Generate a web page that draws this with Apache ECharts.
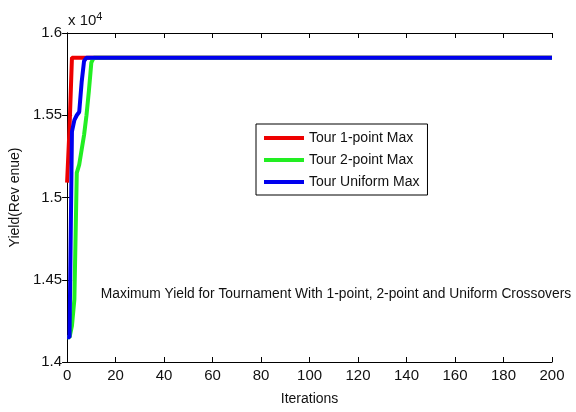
<!DOCTYPE html>
<html>
<head>
<meta charset="utf-8">
<script src="https://cdn.jsdelivr.net/npm/echarts@6/dist/echarts.min.js"></script>
<style>
  html,body{margin:0;padding:0;background:#fff;}
  #main{width:576px;height:412px;}
</style>
</head>
<body>
<div id="main"></div>
<script>
// iterations / yield values
var iterRed   = [0, 1, 2, 200];
var yieldRed  = [15090, 15420, 15850, 15850];

var iterGreen  = [0, 1, 2, 3, 4, 5, 6, 7, 8, 9, 10, 11, 200];
var yieldGreen = [14150, 14150, 14220, 14380, 15150, 15200, 15290, 15380, 15500, 15650, 15820, 15850, 15850];

var iterBlue  = [0, 1, 2, 3, 4, 5, 6, 7, 8, 200];
var yieldBlue = [14150, 14150, 15400, 15470, 15500, 15520, 15700, 15830, 15850, 15850];

var seriesNames = ['Tour 1-point Max', 'Tour 2-point Max', 'Tour Uniform Max'];
var seriesColors = ['#ee0000', '#22ee22', '#0000ee'];
var yTicks = [14000, 14500, 15000, 15500, 16000];

var font = "'Liberation Sans Narrow', 'Liberation Sans', Arial, sans-serif";

var pairs = function(xs, ys){
    var out = [];
    for (var i = 0; i < xs.length; i++) out.push([xs[i], ys[i]]);
    return out;
};

var myChart = echarts.init(document.getElementById('main'));

var tickStyle = {show:true, inside:true, length:5, lineStyle:{color:'#000', width:1}};
var lineStyle = {show:true, lineStyle:{color:'#000', width:1}};

var option = {
    animation:false,
    backgroundColor:'#fff',
    textStyle:{fontFamily:font},
    title:[{
        text:'Maximum Yield for Tournament With 1-point, 2-point and Uniform Crossovers',
        left:331, top:282, textAlign:'center',
        textStyle:{fontSize:13.8, fontWeight:'normal', color:'#111', fontFamily:font}
    },{
        text:'x 10{sup|4}',
        left:63, top:6,
        textStyle:{fontSize:15, fontWeight:'normal', color:'#111', fontFamily:font,
            rich:{sup:{fontSize:11, verticalAlign:'top', padding:[0,0,8,0], fontFamily:font, color:'#111'}}}
    }],
    legend:{
        orient:'vertical',
        left:256, top:124,
        data:seriesNames,
        icon:'rect',
        itemWidth:40, itemHeight:4,
        itemGap:8,
        borderColor:'#000', borderWidth:1,
        padding:[7,8,6,8],
        backgroundColor:'#fff',
        textStyle:{fontSize:14, color:'#111', fontFamily:font}
    },
    grid:{left:65, top:33, right:24, bottom:50},
    xAxis:[{
        type:'value', min:0, max:200, interval:20,
        name:'Iterations', nameLocation:'middle', nameGap:30,
        nameTextStyle:{fontSize:14, color:'#111', fontFamily:font},
        axisLine:lineStyle, axisTick:tickStyle, splitLine:{show:false},
        axisLabel:{fontSize:15, color:'#111', margin:6, fontFamily:font}
    },{
        type:'value', min:0, max:200, interval:20, position:'top',
        axisLine:lineStyle, axisTick:tickStyle, splitLine:{show:false},
        axisLabel:{show:false}
    }],
    yAxis:[{
        type:'value', min:yTicks[0], max:yTicks[yTicks.length-1], interval:500,
        name:'Yield(Rev enue)', nameLocation:'middle', nameGap:35,
        nameTextStyle:{fontSize:14, color:'#111', fontFamily:font},
        axisLine:lineStyle, axisTick:tickStyle, splitLine:{show:false},
        axisLabel:{fontSize:15, color:'#111', margin:5, fontFamily:font,
            formatter:function(v){ return String(v/10000); }}
    },{
        type:'value', min:yTicks[0], max:yTicks[yTicks.length-1], interval:500, position:'right',
        axisLine:lineStyle, axisTick:tickStyle, splitLine:{show:false},
        axisLabel:{show:false}
    }],
    series:[
        {name:seriesNames[0], type:'line', data:pairs(iterRed, yieldRed), showSymbol:false,
         lineStyle:{width:4, color:seriesColors[0]}, itemStyle:{color:seriesColors[0]}},
        {name:seriesNames[1], type:'line', data:pairs(iterGreen, yieldGreen), showSymbol:false,
         lineStyle:{width:4, color:seriesColors[1]}, itemStyle:{color:seriesColors[1]}},
        {name:seriesNames[2], type:'line', data:pairs(iterBlue, yieldBlue), showSymbol:false,
         lineStyle:{width:4, color:seriesColors[2]}, itemStyle:{color:seriesColors[2]}}
    ]
};
myChart.setOption(option);
</script>
</body>
</html>
